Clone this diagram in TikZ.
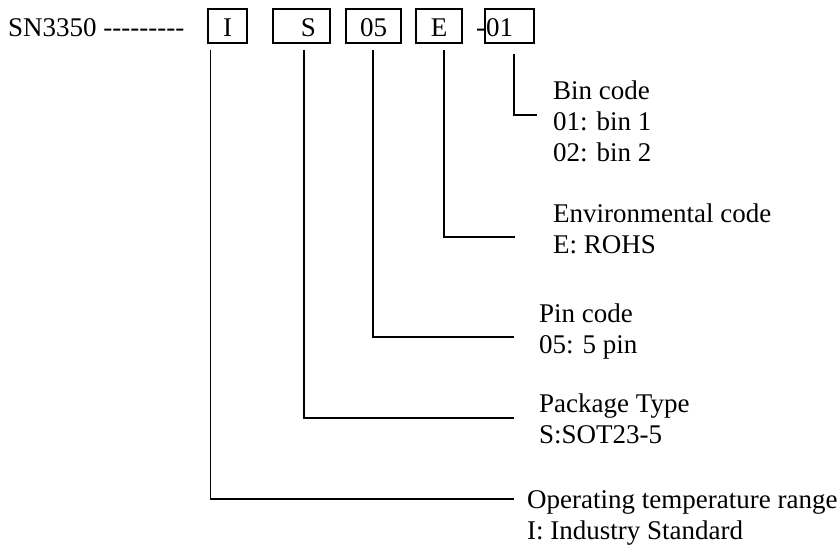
\documentclass[tikz,border=0pt]{standalone}
\usepackage{fontspec}
\setmainfont{Liberation Serif}
\usetikzlibrary{calc}
\newcommand{\hy}{-\kern0pt}
\begin{document}
\begin{tikzpicture}[x=1pt,y=-1pt,
  every node/.style={font=\fontsize{27}{31}\selectfont, inner sep=0pt},
  codebox/.style={draw, line width=1.2pt, minimum height=34pt, text height=22pt, text depth=0pt, anchor=center},
  lbl/.style={anchor=base west},
  conn/.style={line width=1.2pt}]
\useasboundingbox (0,0) rectangle (840,545);
\node[lbl] (pn) at (8,37) {SN3350 \hy\hy\hy\hy\hy\hy\hy\hy\hy};
\node[codebox, minimum width=39pt] (bI) at (227.5,26) {I};
\node[codebox, minimum width=57pt] (bS) at (301.5,26) {\hspace*{14pt}S};
\node[codebox, minimum width=55pt] (b05) at (373.5,26) {05};
\node[codebox, minimum width=46pt] (bE) at (439,26) {E};
\node[lbl] (dash) at (476,37) {-};
\node[codebox, minimum width=49pt] (b01) at (509.5,26) {01\hspace*{20pt}};
% descriptions
\node[lbl] (bin) at (553,100) {\begin{tabular}[t]{@{}l@{}}Bin code\\01: bin 1\\02: bin 2\end{tabular}};
\node[lbl] (env) at (553,223) {\begin{tabular}[t]{@{}l@{}}Environmental code\\E: ROHS\end{tabular}};
\node[lbl] (pin) at (539,322) {\begin{tabular}[t]{@{}l@{}}Pin code\\05: 5 pin\end{tabular}};
\node[lbl] (pkg) at (539,412) {\begin{tabular}[t]{@{}l@{}}Package Type\\S:SOT23-5\end{tabular}};
\node[lbl] (opr) at (527,508) {\begin{tabular}[t]{@{}l@{}}Operating temperature range\\I: Industry Standard\end{tabular}};
% tick start points
\coordinate (tI) at ($(bI.south west)+(3,6)$);
\coordinate (tS) at ($(bS.south)+(2.5,6)$);
\coordinate (t05) at ($(b05.south)+(-0.5,6)$);
\coordinate (tE) at ($(bE.south)+(5,6)$);
\coordinate (t01) at ($(b01.south)+(4.5,10)$);
\draw[conn] (t01) |- ($(bin.base west)+(-16,15)$);
\draw[conn] (tE) |- ($(env.base west)+(-38,14)$);
\draw[conn] (t05) |- ($(pin.base west)+(-25,15)$);
\draw[conn] (tS) |- ($(pkg.base west)+(-25,6)$);
\draw[conn] (tI) |- ($(opr.base west)+(-13,-9)$);
\end{tikzpicture}
\end{document}
